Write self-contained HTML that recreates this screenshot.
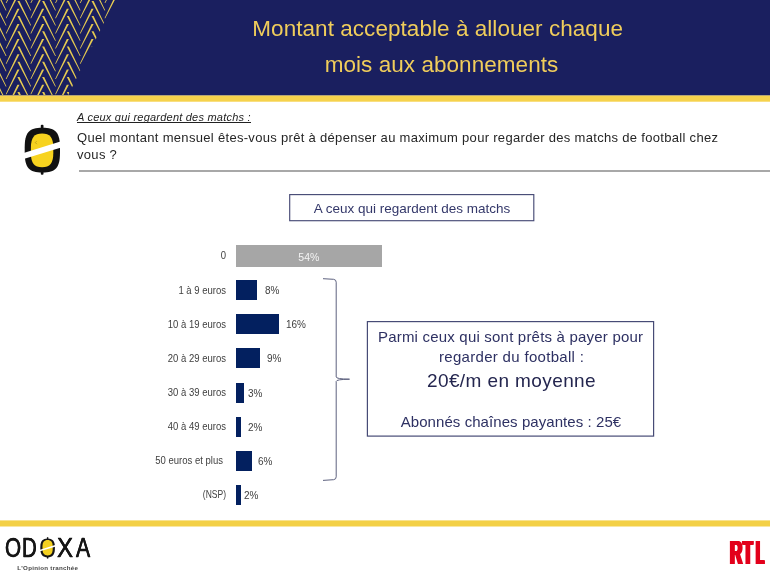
<!DOCTYPE html>
<html lang="fr">
<head>
<meta charset="utf-8">
<title>Montant acceptable à allouer chaque mois aux abonnements</title>
<style>
html,body{margin:0;padding:0;}
body{width:770px;height:577px;position:relative;overflow:hidden;background:#fff;font-family:"Liberation Sans",sans-serif;}
.abs{position:absolute;white-space:pre;}
#hdr{position:absolute;left:0;top:0;width:770px;height:96px;}
.title{position:absolute;left:0;width:874px;text-align:center;color:#f0cd5b;font-size:22.5px;letter-spacing:0.05px;line-height:26px;white-space:pre;}
.q1{left:77px;top:110px;font-size:11px;letter-spacing:0.22px;line-height:14px;font-style:italic;color:#222;}
.q1u{position:absolute;left:77px;top:121.5px;width:174px;height:1px;background:#222;}
.q2{left:77px;font-size:13px;line-height:16px;color:#262626;letter-spacing:0.31px;}
#rule{position:absolute;left:79px;top:170px;width:691px;height:2px;background:#a8a8a8;}
.bar{position:absolute;left:236px;height:20px;background:#03205f;}
.lab{position:absolute;width:226px;left:0;text-align:right;font-size:10.5px;line-height:12px;color:#404040;white-space:pre;transform:scaleX(0.906);transform-origin:100% 50%;margin-top:-0.8px;}
.val{position:absolute;font-size:10.5px;line-height:12px;color:#404040;white-space:pre;transform:scaleX(0.95);transform-origin:0 50%;margin-top:-0.3px;}
.bt{position:absolute;left:366px;width:290px;text-align:center;color:#2e3163;white-space:pre;}
.lg{position:absolute;top:534.1px;font-size:27.8px;line-height:1;color:#161616;transform-origin:0 0;white-space:pre;-webkit-text-stroke:0.3px #161616;}
.rt{position:absolute;top:536.1px;font-size:33.3px;line-height:1;font-weight:bold;color:#e3001b;transform-origin:0 0;white-space:pre;}
#tag{position:absolute;left:17.3px;top:563.7px;font-size:6.2px;letter-spacing:0.27px;line-height:8px;font-weight:bold;color:#444;white-space:pre;}
</style>
</head>
<body>
<svg width="770" height="577" viewBox="0 0 770 577" style="position:absolute;left:0;top:0">
<rect x="0" y="0" width="770" height="95.6" fill="#1a1f5f"/>
<rect x="0" y="95.5" width="770" height="6.2" fill="#f6d24c"/>
<rect x="0" y="520.4" width="770" height="6.1" fill="#f3d046"/>
<rect x="289.7" y="194.6" width="244.1" height="26.1" fill="none" stroke="#474b76" stroke-width="1.15"/>
<rect x="367.4" y="321.6" width="286.2" height="114.5" fill="none" stroke="#474b76" stroke-width="1.2"/>
</svg>
<div id="hdr">
<svg width="130" height="95" viewBox="0 0 130 95" style="position:absolute;left:0;top:0">
<defs><clipPath id="hc"><path d="M0 0H115.2L68.2 95H0Z"/></clipPath></defs>
<path clip-path="url(#hc)" fill="#e4c951" d="M-7.30 -44.70L-5.20 -44.70L6.50 -20.00L5.70 -20.00ZM-7.30 -29.50L-5.20 -29.50L6.50 -4.80L5.70 -4.80ZM-7.30 -14.30L-5.20 -14.30L6.50 10.40L5.70 10.40ZM-7.30 0.90L-5.20 0.90L6.50 25.60L5.70 25.60ZM-7.30 16.10L-5.20 16.10L6.50 40.80L5.70 40.80ZM-7.30 31.30L-5.20 31.30L6.50 56.00L5.70 56.00ZM-7.30 46.50L-5.20 46.50L6.50 71.20L5.70 71.20ZM-7.30 61.70L-5.20 61.70L6.50 86.40L5.70 86.40ZM-7.30 76.90L-5.20 76.90L6.50 101.60L5.70 101.60ZM-7.30 92.10L-5.20 92.10L6.50 116.80L5.70 116.80ZM-7.30 107.30L-5.20 107.30L6.50 132.00L5.70 132.00ZM17.40 -36.90L19.50 -36.90L6.50 -12.20L5.70 -12.20ZM17.40 -21.70L19.50 -21.70L6.50 3.00L5.70 3.00ZM17.40 -6.50L19.50 -6.50L6.50 18.20L5.70 18.20ZM17.40 8.70L19.50 8.70L6.50 33.40L5.70 33.40ZM17.40 23.90L19.50 23.90L6.50 48.60L5.70 48.60ZM17.40 39.10L19.50 39.10L6.50 63.80L5.70 63.80ZM17.40 54.30L19.50 54.30L6.50 79.00L5.70 79.00ZM17.40 69.50L19.50 69.50L6.50 94.20L5.70 94.20ZM17.40 84.70L19.50 84.70L6.50 109.40L5.70 109.40ZM17.40 99.90L19.50 99.90L6.50 124.60L5.70 124.60ZM17.40 115.10L19.50 115.10L6.50 139.80L5.70 139.80ZM17.40 -44.70L19.50 -44.70L31.20 -20.00L30.40 -20.00ZM17.40 -29.50L19.50 -29.50L31.20 -4.80L30.40 -4.80ZM17.40 -14.30L19.50 -14.30L31.20 10.40L30.40 10.40ZM17.40 0.90L19.50 0.90L31.20 25.60L30.40 25.60ZM17.40 16.10L19.50 16.10L31.20 40.80L30.40 40.80ZM17.40 31.30L19.50 31.30L31.20 56.00L30.40 56.00ZM17.40 46.50L19.50 46.50L31.20 71.20L30.40 71.20ZM17.40 61.70L19.50 61.70L31.20 86.40L30.40 86.40ZM17.40 76.90L19.50 76.90L31.20 101.60L30.40 101.60ZM17.40 92.10L19.50 92.10L31.20 116.80L30.40 116.80ZM17.40 107.30L19.50 107.30L31.20 132.00L30.40 132.00ZM42.10 -36.90L44.20 -36.90L31.20 -12.20L30.40 -12.20ZM42.10 -21.70L44.20 -21.70L31.20 3.00L30.40 3.00ZM42.10 -6.50L44.20 -6.50L31.20 18.20L30.40 18.20ZM42.10 8.70L44.20 8.70L31.20 33.40L30.40 33.40ZM42.10 23.90L44.20 23.90L31.20 48.60L30.40 48.60ZM42.10 39.10L44.20 39.10L31.20 63.80L30.40 63.80ZM42.10 54.30L44.20 54.30L31.20 79.00L30.40 79.00ZM42.10 69.50L44.20 69.50L31.20 94.20L30.40 94.20ZM42.10 84.70L44.20 84.70L31.20 109.40L30.40 109.40ZM42.10 99.90L44.20 99.90L31.20 124.60L30.40 124.60ZM42.10 115.10L44.20 115.10L31.20 139.80L30.40 139.80ZM42.10 -44.70L44.20 -44.70L55.90 -20.00L55.10 -20.00ZM42.10 -29.50L44.20 -29.50L55.90 -4.80L55.10 -4.80ZM42.10 -14.30L44.20 -14.30L55.90 10.40L55.10 10.40ZM42.10 0.90L44.20 0.90L55.90 25.60L55.10 25.60ZM42.10 16.10L44.20 16.10L55.90 40.80L55.10 40.80ZM42.10 31.30L44.20 31.30L55.90 56.00L55.10 56.00ZM42.10 46.50L44.20 46.50L55.90 71.20L55.10 71.20ZM42.10 61.70L44.20 61.70L55.90 86.40L55.10 86.40ZM42.10 76.90L44.20 76.90L55.90 101.60L55.10 101.60ZM42.10 92.10L44.20 92.10L55.90 116.80L55.10 116.80ZM42.10 107.30L44.20 107.30L55.90 132.00L55.10 132.00ZM66.80 -36.90L68.90 -36.90L55.90 -12.20L55.10 -12.20ZM66.80 -21.70L68.90 -21.70L55.90 3.00L55.10 3.00ZM66.80 -6.50L68.90 -6.50L55.90 18.20L55.10 18.20ZM66.80 8.70L68.90 8.70L55.90 33.40L55.10 33.40ZM66.80 23.90L68.90 23.90L55.90 48.60L55.10 48.60ZM66.80 39.10L68.90 39.10L55.90 63.80L55.10 63.80ZM66.80 54.30L68.90 54.30L55.90 79.00L55.10 79.00ZM66.80 69.50L68.90 69.50L55.90 94.20L55.10 94.20ZM66.80 84.70L68.90 84.70L55.90 109.40L55.10 109.40ZM66.80 99.90L68.90 99.90L55.90 124.60L55.10 124.60ZM66.80 115.10L68.90 115.10L55.90 139.80L55.10 139.80ZM66.80 -44.70L68.90 -44.70L80.60 -20.00L79.80 -20.00ZM66.80 -29.50L68.90 -29.50L80.60 -4.80L79.80 -4.80ZM66.80 -14.30L68.90 -14.30L80.60 10.40L79.80 10.40ZM66.80 0.90L68.90 0.90L80.60 25.60L79.80 25.60ZM66.80 16.10L68.90 16.10L80.60 40.80L79.80 40.80ZM66.80 31.30L68.90 31.30L80.60 56.00L79.80 56.00ZM66.80 46.50L68.90 46.50L80.60 71.20L79.80 71.20ZM66.80 61.70L68.90 61.70L80.60 86.40L79.80 86.40ZM66.80 76.90L68.90 76.90L80.60 101.60L79.80 101.60ZM66.80 92.10L68.90 92.10L80.60 116.80L79.80 116.80ZM66.80 107.30L68.90 107.30L80.60 132.00L79.80 132.00ZM91.50 -36.90L93.60 -36.90L80.60 -12.20L79.80 -12.20ZM91.50 -21.70L93.60 -21.70L80.60 3.00L79.80 3.00ZM91.50 -6.50L93.60 -6.50L80.60 18.20L79.80 18.20ZM91.50 8.70L93.60 8.70L80.60 33.40L79.80 33.40ZM91.50 23.90L93.60 23.90L80.60 48.60L79.80 48.60ZM91.50 39.10L93.60 39.10L80.60 63.80L79.80 63.80ZM91.50 54.30L93.60 54.30L80.60 79.00L79.80 79.00ZM91.50 69.50L93.60 69.50L80.60 94.20L79.80 94.20ZM91.50 84.70L93.60 84.70L80.60 109.40L79.80 109.40ZM91.50 99.90L93.60 99.90L80.60 124.60L79.80 124.60ZM91.50 115.10L93.60 115.10L80.60 139.80L79.80 139.80ZM91.50 -44.70L93.60 -44.70L105.30 -20.00L104.50 -20.00ZM91.50 -29.50L93.60 -29.50L105.30 -4.80L104.50 -4.80ZM91.50 -14.30L93.60 -14.30L105.30 10.40L104.50 10.40ZM91.50 0.90L93.60 0.90L105.30 25.60L104.50 25.60ZM91.50 16.10L93.60 16.10L105.30 40.80L104.50 40.80ZM91.50 31.30L93.60 31.30L105.30 56.00L104.50 56.00ZM91.50 46.50L93.60 46.50L105.30 71.20L104.50 71.20ZM91.50 61.70L93.60 61.70L105.30 86.40L104.50 86.40ZM91.50 76.90L93.60 76.90L105.30 101.60L104.50 101.60ZM91.50 92.10L93.60 92.10L105.30 116.80L104.50 116.80ZM91.50 107.30L93.60 107.30L105.30 132.00L104.50 132.00ZM116.20 -36.90L118.30 -36.90L105.30 -12.20L104.50 -12.20ZM116.20 -21.70L118.30 -21.70L105.30 3.00L104.50 3.00ZM116.20 -6.50L118.30 -6.50L105.30 18.20L104.50 18.20ZM116.20 8.70L118.30 8.70L105.30 33.40L104.50 33.40ZM116.20 23.90L118.30 23.90L105.30 48.60L104.50 48.60ZM116.20 39.10L118.30 39.10L105.30 63.80L104.50 63.80ZM116.20 54.30L118.30 54.30L105.30 79.00L104.50 79.00ZM116.20 69.50L118.30 69.50L105.30 94.20L104.50 94.20ZM116.20 84.70L118.30 84.70L105.30 109.40L104.50 109.40ZM116.20 99.90L118.30 99.90L105.30 124.60L104.50 124.60ZM116.20 115.10L118.30 115.10L105.30 139.80L104.50 139.80ZM116.20 -44.70L118.30 -44.70L130.00 -20.00L129.20 -20.00ZM116.20 -29.50L118.30 -29.50L130.00 -4.80L129.20 -4.80ZM116.20 -14.30L118.30 -14.30L130.00 10.40L129.20 10.40ZM116.20 0.90L118.30 0.90L130.00 25.60L129.20 25.60ZM116.20 16.10L118.30 16.10L130.00 40.80L129.20 40.80ZM116.20 31.30L118.30 31.30L130.00 56.00L129.20 56.00ZM116.20 46.50L118.30 46.50L130.00 71.20L129.20 71.20ZM116.20 61.70L118.30 61.70L130.00 86.40L129.20 86.40ZM116.20 76.90L118.30 76.90L130.00 101.60L129.20 101.60ZM116.20 92.10L118.30 92.10L130.00 116.80L129.20 116.80ZM116.20 107.30L118.30 107.30L130.00 132.00L129.20 132.00Z"/>
</svg>
<div class="title" style="top:15.6px;left:0.7px">Montant acceptable à allouer chaque</div>
<div class="title" style="top:52.2px;left:4.5px">mois aux abonnements</div>
</div>

<!-- question icon -->
<svg width="50" height="60" viewBox="0 0 50 60" style="position:absolute;left:17px;top:120px">
<rect x="23.8" y="4.7" width="2.7" height="50" rx="1" fill="#111"/>
<path d="M25.35 7.80C38.76 7.80 43.00 12.60 43.00 27.80V32.50C43.00 47.70 38.76 52.50 25.35 52.50C11.94 52.50 7.70 47.70 7.70 32.50V27.80C7.70 12.60 11.94 7.80 25.35 7.80Z" fill="#111"/>
<path d="M25.10 13.50C32.94 13.50 36.30 17.70 36.30 27.50V33.30C36.30 43.10 32.94 47.30 25.10 47.30C17.26 47.30 13.90 43.10 13.90 33.30V27.50C13.90 17.70 17.26 13.50 25.10 13.50Z" fill="#f7d31f"/>
<path d="M19.6 21.2L18.3 22.6L19.9 24.2" fill="none" stroke="#8a7212" stroke-width="0.5"/>
<path d="M5 39.6L45 27.2V21.0L5 33.4Z" fill="#fff"/>
</svg>

<div class="abs q1">A ceux qui regardent des matchs :</div>
<div class="q1u"></div>
<div class="abs q2" style="top:130px">Quel montant mensuel êtes-vous prêt à dépenser au maximum pour regarder des matchs de football chez</div>
<div class="abs q2" style="top:146.5px">vous ?</div>
<div id="rule"></div>

<div class="abs" style="left:289px;top:195px;width:246px;text-align:center;font-size:13.5px;line-height:28px;color:#34386a;">A ceux qui regardent des matchs</div>

<!-- chart -->
<div class="bar" style="top:245px;width:146px;background:#a6a6a6;height:21.7px"></div>
<div class="bar" style="top:280px;width:21.3px"></div>
<div class="bar" style="top:314.2px;width:42.8px"></div>
<div class="bar" style="top:348.3px;width:24px"></div>
<div class="bar" style="top:382.8px;width:7.8px"></div>
<div class="bar" style="top:416.8px;width:5.3px"></div>
<div class="bar" style="top:450.7px;width:15.8px"></div>
<div class="bar" style="top:484.8px;width:5.3px"></div>

<div class="lab" style="top:250px">0</div>
<div class="lab" style="top:284.5px">1 à 9 euros</div>
<div class="lab" style="top:318.5px">10 à 19 euros</div>
<div class="lab" style="top:352.5px">20 à 29 euros</div>
<div class="lab" style="top:387px">30 à 39 euros</div>
<div class="lab" style="top:421px">40 à 49 euros</div>
<div class="lab" style="top:455px;width:223px">50 euros et plus</div>
<div class="lab" style="top:489px;transform:scaleX(0.81)">(NSP)</div>

<div class="val" style="left:298.3px;top:250.8px;color:#f4f4f4;font-size:10.5px;transform:none">54%</div>
<div class="val" style="left:265px;top:284.5px">8%</div>
<div class="val" style="left:286px;top:318.5px">16%</div>
<div class="val" style="left:267px;top:352.5px">9%</div>
<div class="val" style="left:248px;top:387px">3%</div>
<div class="val" style="left:248px;top:421px">2%</div>
<div class="val" style="left:258px;top:455px">6%</div>
<div class="val" style="left:244px;top:489px">2%</div>

<!-- bracket -->
<svg width="40" height="210" viewBox="320 275 40 210" style="position:absolute;left:320px;top:275px">
<path d="M323 278.7L333.6 279.3Q336.2 279.6 336.2 282.2V377Q336.2 379 349.5 379.2Q336.2 379.4 336.2 381.4V476.8Q336.2 479.4 333.6 479.7L323 480.4" fill="none" stroke="#5e627f" stroke-width="1"/>
</svg>

<div class="bt" style="top:327px;left:365.6px;font-size:15px;line-height:19px;letter-spacing:0.2px">Parmi ceux qui sont prêts à payer pour</div>
<div class="bt" style="top:347.4px;left:366.6px;font-size:15px;line-height:19px;letter-spacing:0.31px">regarder du football :</div>
<div class="bt" style="top:369.3px;left:366.5px;font-size:19px;line-height:24px;letter-spacing:0.4px;color:#24264f">20€/m en moyenne</div>
<div class="bt" style="top:412px;font-size:15px;line-height:19px;letter-spacing:0.07px">Abonnés chaînes payantes : 25€</div>

<!-- ODOXA logo -->
<div id="logo"><span class="lg" style="left:4.72px;transform:scaleX(0.743);text-shadow:0.27px 0 0 currentColor,-0.27px 0 0 currentColor">O</span><span class="lg" style="left:22.42px;transform:scaleX(0.735);text-shadow:0.27px 0 0 currentColor,-0.27px 0 0 currentColor">D</span><span class="lg" style="left:57.26px;transform:scaleX(0.866);text-shadow:0.23px 0 0 currentColor,-0.23px 0 0 currentColor">X</span><span class="lg" style="left:75.96px;transform:scaleX(0.765);text-shadow:0.26px 0 0 currentColor,-0.26px 0 0 currentColor">A</span></div>
<svg width="20" height="26" viewBox="38 535 20 26" style="position:absolute;left:38px;top:535px">
<rect x="46.9" y="537.2" width="1.4" height="21.4" fill="#161616"/>
<path d="M47.60 538.40C52.56 538.40 54.90 541.15 54.90 547.00V548.80C54.90 554.65 52.56 557.40 47.60 557.40C42.64 557.40 40.30 554.65 40.30 548.80V547.00C40.30 541.15 42.64 538.40 47.60 538.40Z" fill="#161616"/>
<path d="M47.60 540.10C50.97 540.10 52.70 542.28 52.70 546.50V549.00C52.70 553.22 50.97 555.40 47.60 555.40C44.23 555.40 42.50 553.22 42.50 549.00V546.50C42.50 542.28 44.23 540.10 47.60 540.10Z" fill="#f4d120"/>
<path d="M39.3 551.5L55.9 546.4V544.8L39.3 549.9Z" fill="#fff"/>
</svg>
<div id="tag">L'Opinion tranchée</div>

<!-- RTL logo -->
<div id="rtl"><span class="rt" style="left:729.66px;transform:scaleX(0.511);text-shadow:2.35px 0 0 currentColor,-2.35px 0 0 currentColor,1.18px 0 0 currentColor,-1.18px 0 0 currentColor">R</span><span class="rt" style="left:743.12px;transform:scaleX(0.479);text-shadow:2.50px 0 0 currentColor,-2.50px 0 0 currentColor,1.25px 0 0 currentColor,-1.25px 0 0 currentColor">T</span><span class="rt" style="left:756.0px;transform:scaleX(0.398);text-shadow:3.00px 0 0 currentColor,-3.00px 0 0 currentColor,1.50px 0 0 currentColor,-1.50px 0 0 currentColor">L</span></div>
</body>
</html>
